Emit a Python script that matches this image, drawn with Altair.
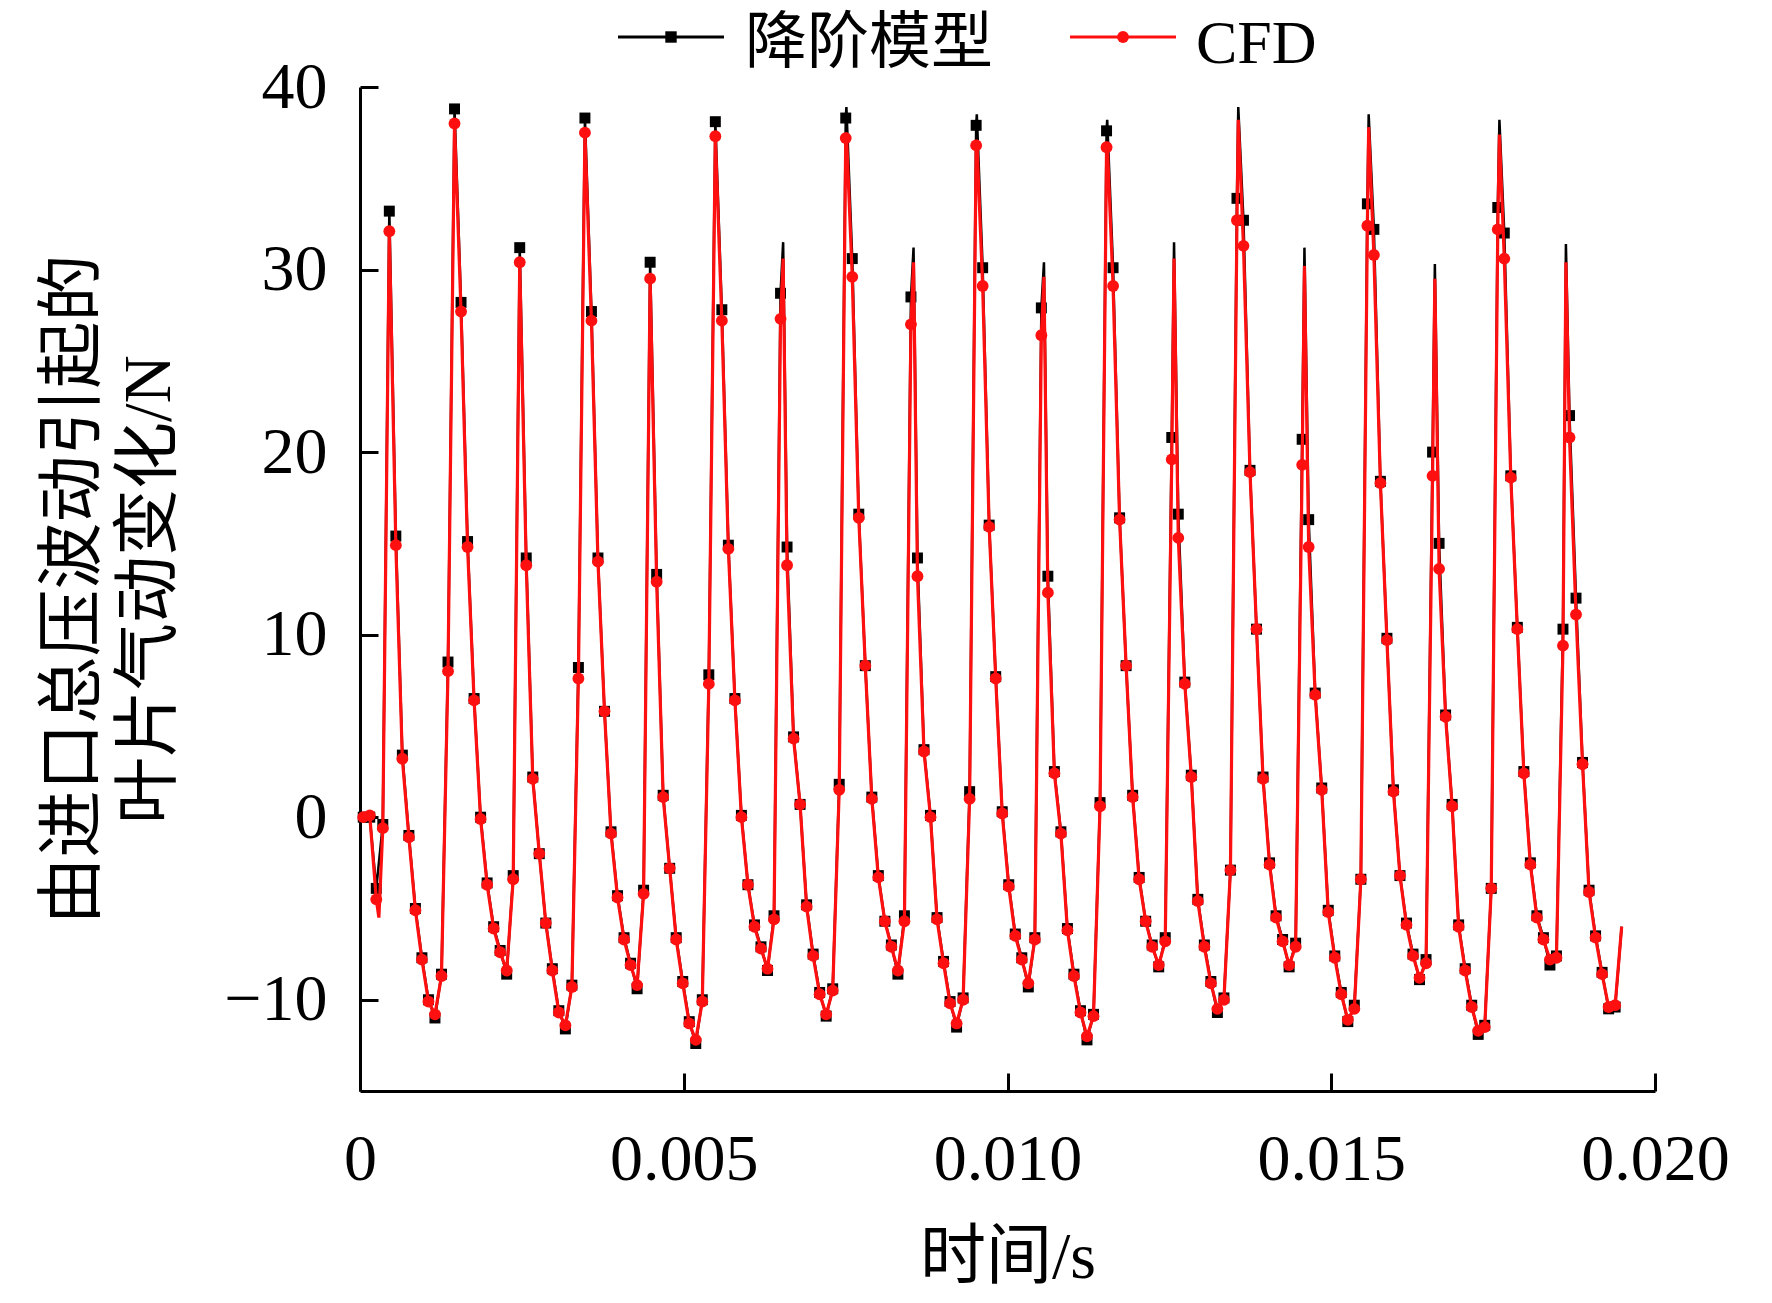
import altair as alt
import pandas as pd

# ---- sampling grid (marker spacing) ----
T0 = 0.00005
DT = 0.0001007

# ---- CFD (red) values at each sample ----
cfd = [
    0.0, 0.1, -4.5, -0.6, 32.1, 14.9, 3.2, -1.1, -5.1, -7.8,
    -10.1, -10.8, -8.7, 8.0, 38.0, 27.7, 14.8, 6.4, -0.1, -3.7,
    -6.1, -7.4, -8.4, -3.4, 30.4, 13.8, 2.1, -2.0, -5.8, -8.4,
    -10.7, -11.4, -9.3, 7.6, 37.5, 27.2, 14.0, 5.8, -0.9, -4.4,
    -6.7, -8.1, -9.2, -4.2, 29.5, 12.9, 1.1, -2.8, -6.7, -9.1,
    -11.3, -12.2, -10.1, 7.3, 37.3, 27.2, 14.7, 6.4, 0.0, -3.7,
    -6.0, -7.2, -8.3, -5.6, 27.3, 13.8, 4.3, 0.7, -4.9, -7.6,
    -9.7, -10.8, -9.5, 1.5, 37.2, 29.6, 16.4, 8.3, 1.0, -3.3,
    -5.7, -7.1, -8.4, -5.7, 27.0, 13.2, 3.6, 0.0, -5.6, -8.0,
    -10.2, -11.3, -10.0, 1.0, 36.8, 29.1, 15.9, 7.6, 0.2, -3.8,
    -6.5, -7.8, -9.1, -6.7, 26.4, 12.3, 2.4, -0.9, -6.2, -8.7,
    -10.7, -12.0, -10.9, 0.6, 36.7, 29.1, 16.3, 8.3, 1.1, -3.4,
    -5.7, -7.1, -8.1, -6.8, 19.6, 15.3, 7.3, 2.2, -4.6, -7.1,
    -9.1, -10.5, -10.0, -2.9, 32.7, 31.3, 18.9, 10.3, 2.1, -2.6,
    -5.5, -6.8, -8.1, -7.1, 19.3, 14.8, 6.7, 1.5, -5.2, -7.7,
    -9.7, -11.1, -10.5, -3.4, 32.4, 30.8, 18.3, 9.7, 1.4, -3.2,
    -5.9, -7.6, -8.8, -8.0, 18.7, 13.6, 5.5, 0.6, -6.0, -8.4,
    -10.4, -11.7, -11.5, -3.9, 32.2, 30.6, 18.6, 10.3, 2.4, -2.6,
    -5.5, -6.7, -7.8, -7.7, 9.4, 20.8, 11.1, 2.9, -4.1, -6.6,
    -8.6, -10.4, -10.3, -6.0,
]

# ---- reduced-order model (black) values at each sample ----
rom = [
    0.0, 0.0, -3.9, -0.4, 33.2, 15.4, 3.4, -1.0, -5.0, -7.7,
    -10.0, -11.0, -8.6, 8.5, 38.8, 28.2, 15.1, 6.5, 0.0, -3.6,
    -6.0, -7.3, -8.6, -3.2, 31.2, 14.2, 2.2, -2.0, -5.8, -8.3,
    -10.6, -11.6, -9.2, 8.2, 38.3, 27.7, 14.2, 5.8, -0.8, -4.3,
    -6.6, -8.0, -9.4, -4.0, 30.4, 13.3, 1.2, -2.8, -6.6, -9.0,
    -11.2, -12.4, -10.0, 7.8, 38.1, 27.8, 14.9, 6.5, 0.1, -3.7,
    -5.9, -7.1, -8.4, -5.4, 28.7, 14.8, 4.4, 0.7, -4.8, -7.5,
    -9.6, -10.9, -9.4, 1.8, 38.3, 30.6, 16.6, 8.3, 1.1, -3.2,
    -5.7, -7.0, -8.6, -5.4, 28.5, 14.2, 3.7, 0.1, -5.5, -7.9,
    -10.1, -11.5, -9.9, 1.4, 37.9, 30.1, 16.0, 7.7, 0.3, -3.7,
    -6.4, -7.7, -9.3, -6.6, 27.9, 13.2, 2.5, -0.8, -6.1, -8.6,
    -10.6, -12.2, -10.8, 0.8, 37.6, 30.1, 16.4, 8.3, 1.2, -3.3,
    -5.7, -7.0, -8.2, -6.6, 20.8, 16.6, 7.4, 2.3, -4.5, -7.0,
    -9.0, -10.7, -9.9, -2.9, 33.9, 32.7, 19.0, 10.3, 2.2, -2.5,
    -5.4, -6.7, -8.2, -6.9, 20.7, 16.3, 6.8, 1.6, -5.1, -7.6,
    -9.6, -11.2, -10.3, -3.4, 33.6, 32.2, 18.4, 9.8, 1.5, -3.2,
    -5.8, -7.5, -8.9, -7.8, 20.0, 15.0, 5.6, 0.7, -5.9, -8.3,
    -10.3, -11.9, -11.4, -3.9, 33.4, 32.0, 18.7, 10.4, 2.5, -2.5,
    -5.4, -6.6, -8.1, -7.6, 10.3, 22.0, 12.0, 3.0, -4.0, -6.5,
    -8.5, -10.5, -10.4, -6.0,
]

# ---- line-only peak tips that fall between markers ----
peak_after_k = [64, 74, 84, 94, 104, 114, 124, 134, 144, 154, 164, 174, 184]
peak_frac = [0.4, 0.1, 0.4, 0.1, 0.4, 0.1, 0.35, 0.2, 0.35, 0.2, 0.35, 0.25, 0.45]
peak_cfd = [30.6, 37.5, 30.4, 37.1, 29.6, 37.0, 30.6, 38.2, 30.2, 37.8, 29.5, 37.4, 30.4]
peak_rom = [31.5, 38.9, 31.2, 38.5, 30.4, 38.2, 31.5, 38.9, 31.2, 38.5, 30.3, 38.2, 31.4]

# start dip of the CFD line (line only)
dip_k, dip_frac, dip_cfd = 2, 0.4, -5.5

legend_labels = ["降阶模型", "CFD"]
x_ticks = [0, 0.005, 0.01, 0.015, 0.02]
y_ticks = [-10, 0, 10, 20, 30, 40]

n = len(cfd)
t = [T0 + DT * k for k in range(n)]

cfd_line = [{"t": t[k], "v": cfd[k]} for k in range(n)]
rom_line = [{"t": t[k], "v": rom[k]} for k in range(n)]
for k, f, vc, vr in zip(peak_after_k, peak_frac, peak_cfd, peak_rom):
    cfd_line.append({"t": t[k] + f * DT, "v": vc})
    rom_line.append({"t": t[k] + f * DT, "v": vr})
cfd_line.append({"t": t[dip_k] + dip_frac * DT, "v": dip_cfd})

cfd_line_df = pd.DataFrame(cfd_line).sort_values("t")
rom_line_df = pd.DataFrame(rom_line).sort_values("t")
cfd_pts_df = pd.DataFrame({"t": t[:-1], "v": cfd[:-1]})
rom_pts_df = pd.DataFrame({"t": t[:-1], "v": rom[:-1]})

W, H = 1295, 1004
FONT = "'Liberation Serif', 'Noto Sans CJK SC', serif"
FS = 66
LFS = 62

xs = alt.Scale(domain=[0, 0.02], nice=False, zero=False)
ys = alt.Scale(domain=[-15, 40], nice=False, zero=False)

x_axis_main = alt.Axis(
    orient="bottom", values=x_ticks, ticks=False, grid=False,
    domain=True, domainColor="black", domainWidth=3,
    labelExpr="datum.value == 0 ? '0' : format(datum.value, '.3f')",
    labelFont=FONT, labelFontSize=FS, labelColor="black", labelPadding=36,
    labelFlush=False, labelOverlap=False,
    title="时间/s", titleFont=FONT, titleFontSize=FS, titleFontWeight="normal",
    titleColor="black", titleX=W / 2, titleY=186, titleAlign="center",
    titleBaseline="alphabetic",
)
y_axis_main = alt.Axis(
    orient="left", values=y_ticks, ticks=False, grid=False,
    domain=True, domainColor="black", domainWidth=3,
    labelExpr="datum.value < 0 ? '\u2212' + abs(datum.value) : datum.label",
    labelFont=FONT, labelFontSize=FS, labelColor="black", labelPadding=33,
    labelFlush=False, labelOverlap=False,
    title=["由进口总压波动引起的", "叶片气动变化/N"], titleFont=FONT, titleFontSize=67,
    titleFontWeight="normal", titleColor="black", titleAngle=270,
    titleX=-320, titleY=H / 2, titleAlign="center", titleBaseline="top",
    titleLineHeight=76,
)
x_axis_ticks = alt.Axis(
    orient="top", offset=-H, values=x_ticks, labels=False, domain=False, grid=False,
    ticks=True, tickSize=18, tickWidth=3, tickColor="black", title=None,
)
y_axis_ticks = alt.Axis(
    orient="right", offset=-W, values=y_ticks, labels=False, domain=False, grid=False,
    ticks=True, tickSize=18, tickWidth=3, tickColor="black", title=None,
)

rom_line_ch = alt.Chart(rom_line_df).mark_line(color="#000000", strokeWidth=2.5).encode(
    x=alt.X("t:Q", scale=xs, axis=x_axis_main),
    y=alt.Y("v:Q", scale=ys, axis=y_axis_main),
)
rom_pts_ch = alt.Chart(rom_pts_df).mark_point(
    shape="square", filled=True, color="#000000", size=120, opacity=1
).encode(
    x=alt.X("t:Q", scale=xs, axis=x_axis_ticks),
    y=alt.Y("v:Q", scale=ys, axis=y_axis_ticks),
)
cfd_line_ch = alt.Chart(cfd_line_df).mark_line(color="#ff1010", strokeWidth=3.2).encode(
    x=alt.X("t:Q", scale=xs, axis=None),
    y=alt.Y("v:Q", scale=ys, axis=None),
)
cfd_pts_ch = alt.Chart(cfd_pts_df).mark_point(
    shape="circle", filled=True, color="#ff1010", size=140, opacity=1
).encode(
    x=alt.X("t:Q", scale=xs, axis=None),
    y=alt.Y("v:Q", scale=ys, axis=None),
)

one = pd.DataFrame({"a": [0]})
LY = -50
TY = -24
leg_rom_line = alt.Chart(one).mark_rule(color="#000000", strokeWidth=3).encode(
    x=alt.value(258), x2=alt.value(364), y=alt.value(LY))
leg_rom_pt = alt.Chart(one).mark_point(
    shape="square", filled=True, color="#000000", size=130, opacity=1
).encode(x=alt.value(311), y=alt.value(LY))
leg_rom_txt = alt.Chart(one).mark_text(
    font=FONT, fontSize=LFS, align="left", baseline="alphabetic", color="black"
).encode(x=alt.value(385), y=alt.value(TY), text=alt.value(legend_labels[0]))
leg_cfd_line = alt.Chart(one).mark_rule(color="#ff1010", strokeWidth=3).encode(
    x=alt.value(710), x2=alt.value(816), y=alt.value(LY))
leg_cfd_pt = alt.Chart(one).mark_point(
    shape="circle", filled=True, color="#ff1010", size=140, opacity=1
).encode(x=alt.value(763), y=alt.value(LY))
leg_cfd_txt = alt.Chart(one).mark_text(
    font=FONT, fontSize=LFS, align="left", baseline="alphabetic", color="black"
).encode(x=alt.value(836), y=alt.value(TY), text=alt.value(legend_labels[1]))

chart = alt.layer(
    rom_line_ch, rom_pts_ch, cfd_line_ch, cfd_pts_ch,
    leg_rom_line, leg_rom_pt, leg_rom_txt, leg_cfd_line, leg_cfd_pt, leg_cfd_txt,
).resolve_axis(
    x="independent", y="independent"
).properties(
    width=W, height=H,
    padding={"left": 352, "top": 79, "right": 100, "bottom": 204},
    autosize=alt.AutoSizeParams(type="none"),
    background="white",
).configure_view(stroke=None)

chart.save("out.html", embed_options={"renderer": "svg", "actions": False})
